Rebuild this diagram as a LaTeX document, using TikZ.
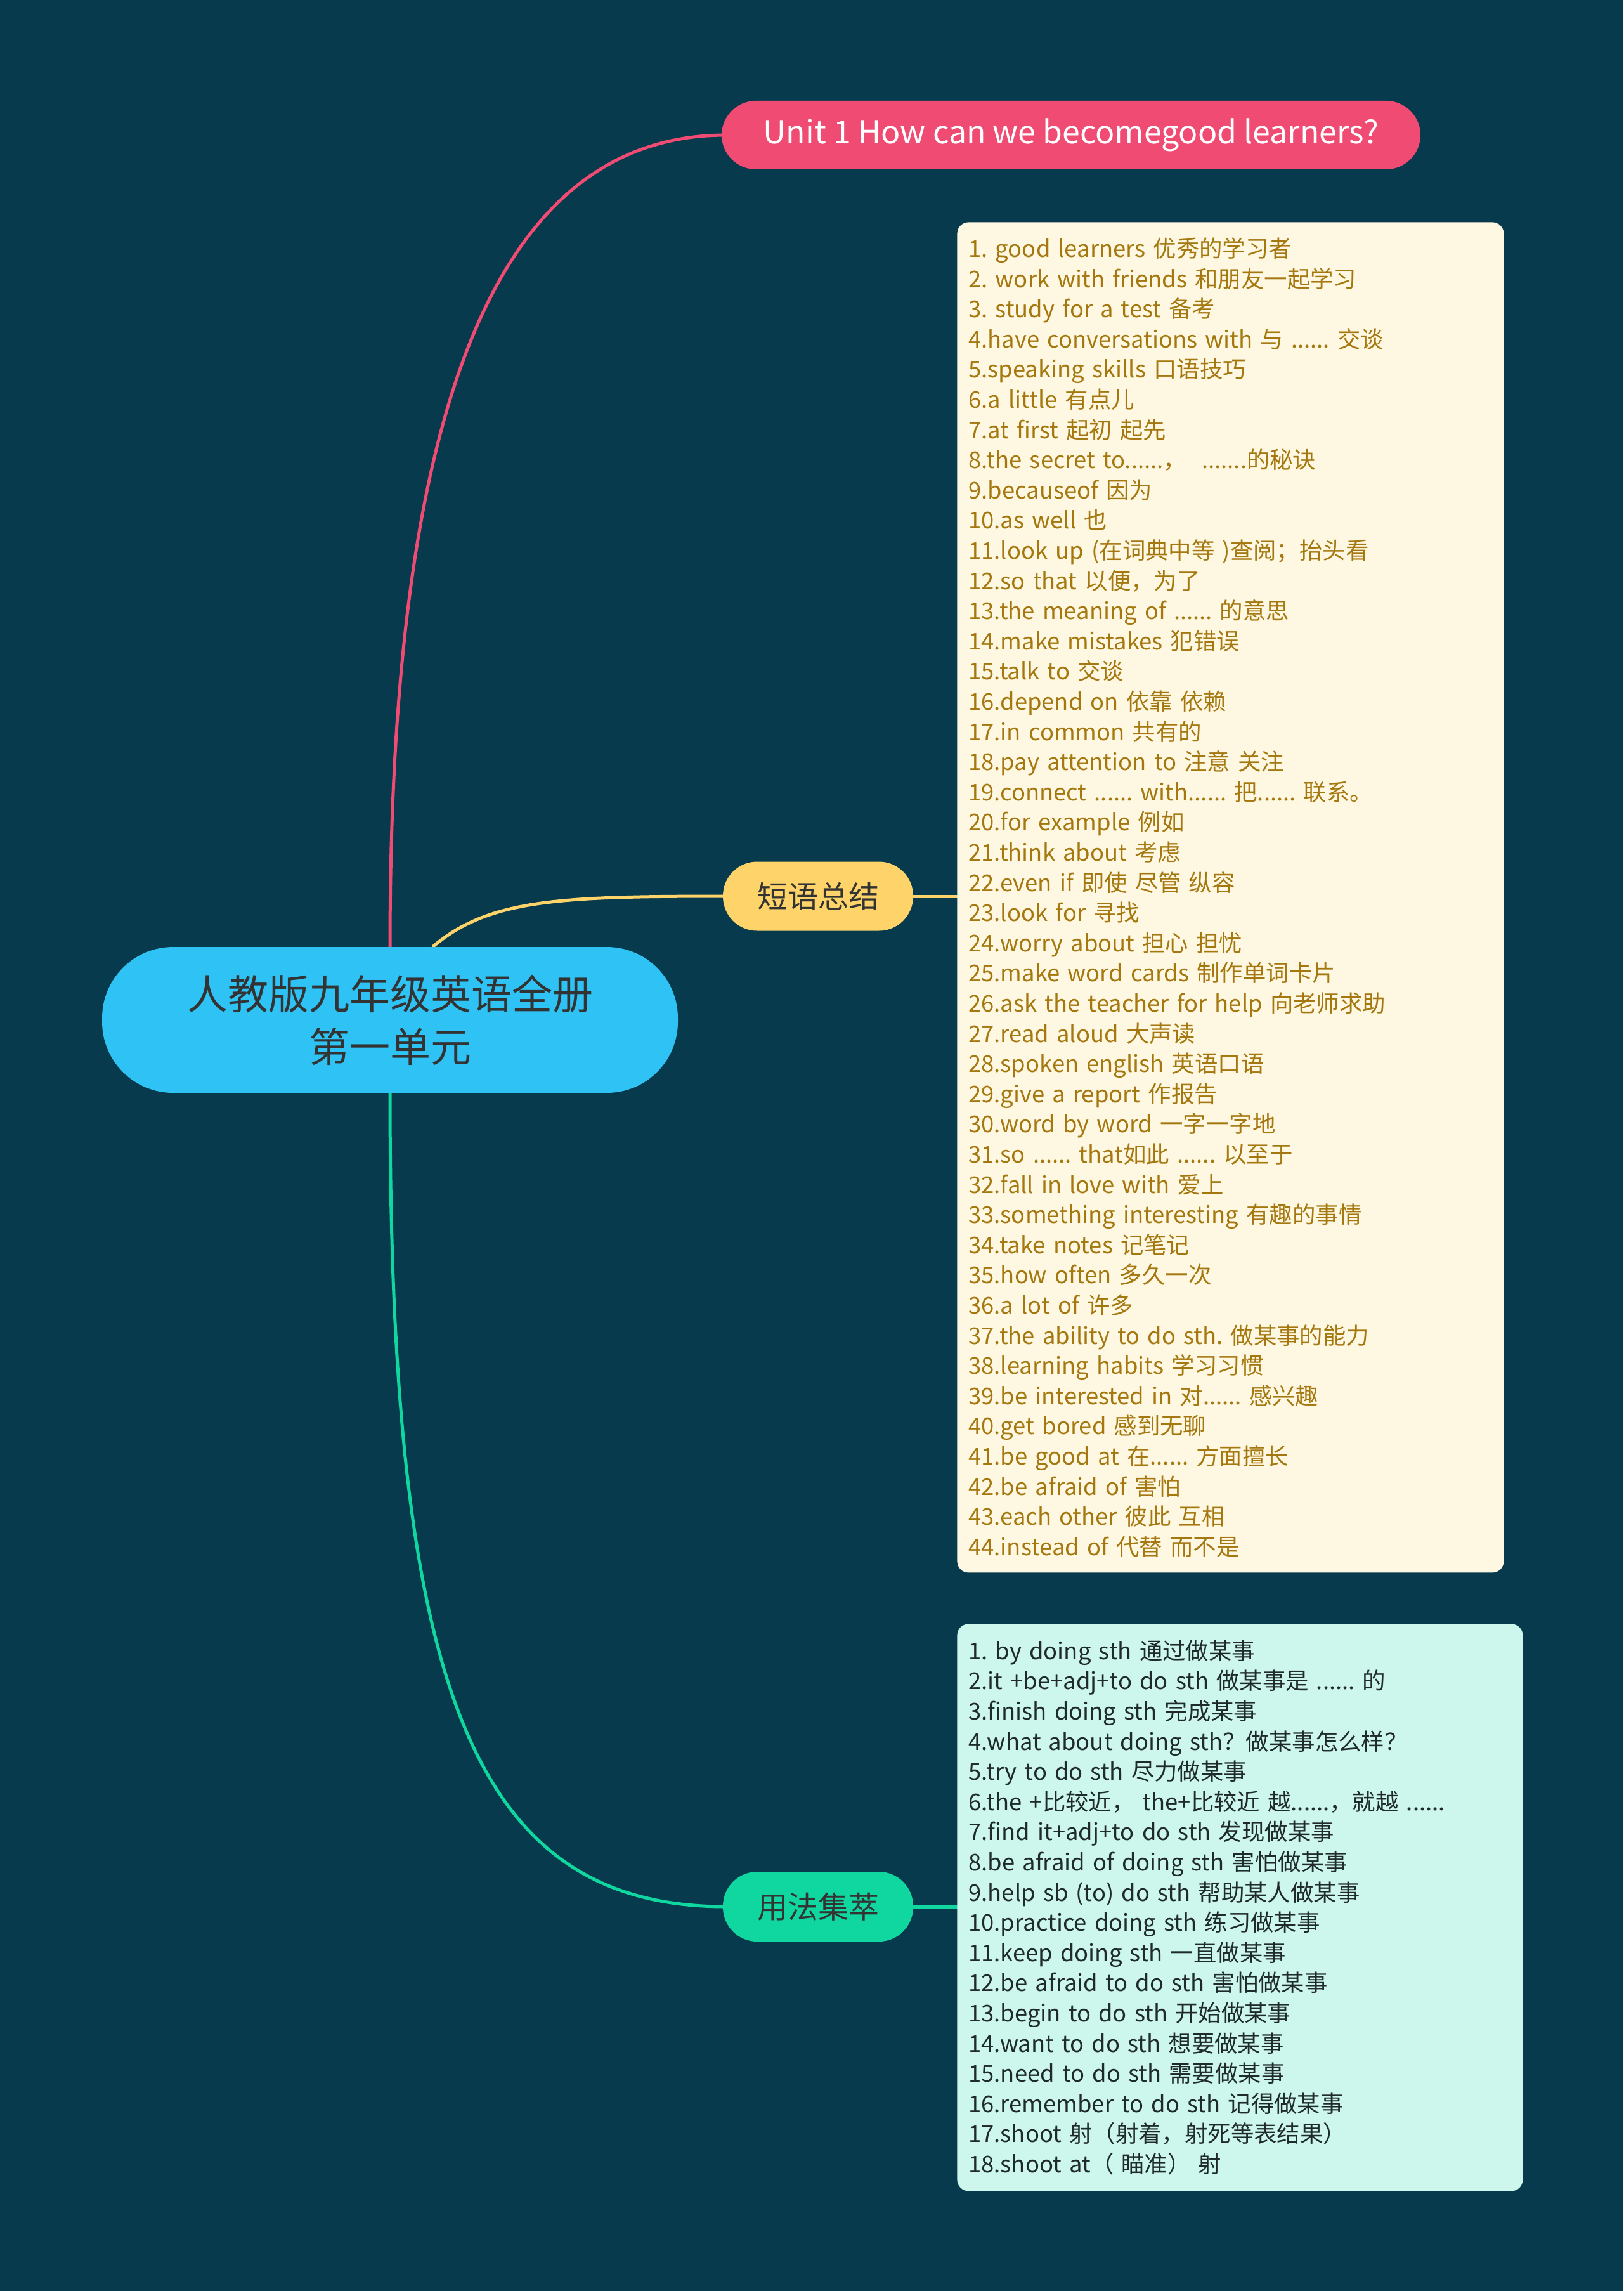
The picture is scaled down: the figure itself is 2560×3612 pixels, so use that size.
\documentclass[tikz,border=0pt]{standalone}
\usepackage{fontspec}
\setmainfont{Noto Sans CJK SC}
\frenchspacing
\definecolor{bgc}{HTML}{073A4C}
\definecolor{pinkc}{HTML}{EF4B73}
\definecolor{yelc}{HTML}{FDD36A}
\definecolor{grnc}{HTML}{10D6A0}
\definecolor{rootc}{HTML}{2FC3F5}
\definecolor{box1c}{HTML}{FEF7E1}
\definecolor{box1t}{HTML}{A5780F}
\definecolor{box2c}{HTML}{CDF6EC}
\definecolor{box2t}{HTML}{1F2A2A}
\definecolor{darkt}{HTML}{333333}
\tikzset{
  conn/.style={line width=2.5pt},
  pill/.style={inner sep=0pt, align=center},
  listbox/.style={anchor=north west, inner xsep=9pt, inner ysep=0pt, rounded corners=9pt, align=left,
     font={\fontsize{18.2pt}{23.8pt}\selectfont}},
}
\begin{document}
\begin{tikzpicture}[x=0.5pt,y=-0.5pt]
\fill[bgc] (0,0) rectangle (2560,3612);
\useasboundingbox (0,0) rectangle (2560,3612);

% connectors
\coordinate (rtop) at (615,1493);
\coordinate (rtop2) at (682,1493);
\coordinate (rbot) at (615,1723);
\draw[conn,pinkc] (rtop) .. controls (615,750) and (740,213) .. (1145,213);
\draw[conn,yelc] (rtop2) .. controls (770,1418) and (880,1413) .. (1145,1413);
\draw[conn,grnc] (rbot) .. controls (615,2650) and (740,3006) .. (1145,3006);
\draw[conn,yelc] (1435,1413) -- (1515,1413);
\draw[conn,grnc] (1435,3006) -- (1515,3006);

% root
\node[pill, fill=rootc, text=darkt, minimum width=454pt, minimum height=115pt, rounded corners=56pt,
  font={\fontsize{32pt}{41.5pt}\selectfont}] (root) at (615,1608) {人教版九年级英语全册\\第一单元};

% unit node
\node[pill, fill=pinkc, text=white, minimum width=551pt, minimum height=54pt, rounded corners=27pt,
  font={\fontsize{25pt}{30pt}\selectfont}] (unit) at (1689,213) {Unit 1 How can we becomegood learners?};

% branch nodes
\node[pill, fill=yelc, text=darkt, minimum width=150pt, minimum height=54.5pt, rounded corners=27pt,
  font={\fontsize{24pt}{28pt}\selectfont}] (phr) at (1290,1413) {短语总结};
\node[pill, fill=grnc, text=darkt, minimum width=150pt, minimum height=55pt, rounded corners=27pt,
  font={\fontsize{24pt}{28pt}\selectfont}] (use) at (1290,3006) {用法集萃};

% list 1
\node[listbox, fill=box1c, text=box1t, minimum width=431pt, minimum height=1064.5pt, text width=413pt] (list1) at (1509,350) {%
1. good learners 优秀的学习者\\
2. work with friends 和朋友一起学习\\
3. study for a test 备考\\
4.have conversations with 与 ...... 交谈\\
5.speaking skills 口语技巧\\
6.a little 有点儿\\
7.at first 起初 起先\\
8.the secret to......，\ \ .......的秘诀\\
9.becauseof 因为\\
10.as well 也\\
11.look up (在词典中等 )查阅；抬头看\\
12.so that 以便，为了\\
13.the meaning of ...... 的意思\\
14.make mistakes 犯错误\\
15.talk to 交谈\\
16.depend on 依靠 依赖\\
17.in common 共有的\\
18.pay attention to 注意 关注\\
19.connect ...... with...... 把...... 联系。\\
20.for example 例如\\
21.think about 考虑\\
22.even if 即使 尽管 纵容\\
23.look for 寻找\\
24.worry about 担心 担忧\\
25.make word cards 制作单词卡片\\
26.ask the teacher for help 向老师求助\\
27.read aloud 大声读\\
28.spoken english 英语口语\\
29.give a report 作报告\\
30.word by word 一字一字地\\
31.so ...... that如此 ...... 以至于\\
32.fall in love with 爱上\\
33.something interesting 有趣的事情\\
34.take notes 记笔记\\
35.how often 多久一次\\
36.a lot of 许多\\
37.the ability to do sth. 做某事的能力\\
38.learning habits 学习习惯\\
39.be interested in 对...... 感兴趣\\
40.get bored 感到无聊\\
41.be good at 在...... 方面擅长\\
42.be afraid of 害怕\\
43.each other 彼此 互相\\
44.instead of 代替 而不是};

% list 2
\node[listbox, fill=box2c, text=box2t, minimum width=446pt, minimum height=447pt, text width=428pt] (list2) at (1509,2560) {%
1. by doing sth 通过做某事\\
2.it +be+adj+to do sth 做某事是 ...... 的\\
3.finish doing sth 完成某事\\
4.what about doing sth？做某事怎么样？\\
5.try to do sth 尽力做某事\\
6.the +比较近，\ the+比较近 越......，就越 ......\\
7.find it+adj+to do sth 发现做某事\\
8.be afraid of doing sth 害怕做某事\\
9.help sb (to) do sth 帮助某人做某事\\
10.practice doing sth 练习做某事\\
11.keep doing sth 一直做某事\\
12.be afraid to do sth 害怕做某事\\
13.begin to do sth 开始做某事\\
14.want to do sth 想要做某事\\
15.need to do sth 需要做某事\\
16.remember to do sth 记得做某事\\
17.shoot 射（射着，射死等表结果）\\
18.shoot at（ 瞄准） 射};
\end{tikzpicture}
\end{document}
